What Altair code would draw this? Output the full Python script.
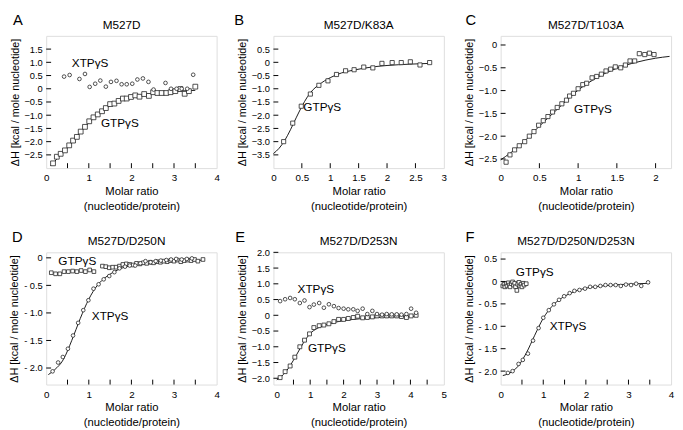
import altair as alt
import pandas as pd

FONT = "Liberation Sans"

# ---------------- Panel A: M527D ----------------
A_gtp_x = [0.16,0.25,0.34,0.44,0.54,0.63,0.72,0.81,0.91,1.01,1.11,1.21,1.31,1.40,1.50,1.60,1.70,1.80,1.89,1.99,2.09,2.19,2.30,2.41,2.51,2.61,2.71,2.82,2.92,3.03,3.15,3.25,3.35,3.50]
A_gtp_y = [-2.82,-2.57,-2.46,-2.33,-2.14,-1.96,-1.82,-1.62,-1.44,-1.23,-1.08,-0.97,-0.85,-0.73,-0.58,-0.56,-0.46,-0.37,-0.37,-0.31,-0.25,-0.30,-0.20,-0.27,-0.13,-0.16,-0.16,-0.16,-0.13,-0.09,-0.01,-0.19,-0.09,0.08]
A_xtp_x = [0.42,0.55,0.78,0.91,1.02,1.15,1.27,1.40,1.52,1.65,1.77,1.89,2.02,2.14,2.27,2.40,2.52,2.80,2.93,3.06,3.18,3.31,3.45]
A_xtp_y = [0.46,0.52,0.37,0.56,0.07,0.19,0.31,0.08,0.26,0.30,0.17,0.17,0.19,0.35,0.39,0.26,-0.03,0.22,0.00,0.00,0.00,0.00,0.53]
A_fit_x = [0.10,0.30,0.50,0.70,0.90,1.10,1.30,1.50,1.70,1.90,2.10,2.30,2.60,3.00,3.50]
A_fit_y = [-2.92,-2.57,-2.22,-1.85,-1.47,-1.12,-0.86,-0.64,-0.48,-0.37,-0.28,-0.22,-0.16,-0.10,-0.06]

# ---------------- Panel B: M527D/K83A ----------------
B_gtp_x = [0.18,0.34,0.49,0.65,0.80,0.96,1.11,1.27,1.42,1.59,1.75,1.91,2.09,2.25,2.41,2.58,2.75]
B_gtp_y = [-3.00,-2.30,-1.66,-1.20,-0.87,-0.70,-0.46,-0.32,-0.28,-0.18,-0.21,-0.04,-0.01,-0.01,0.02,-0.10,-0.01]
B_fit_x = [0.0,0.1,0.2,0.3,0.4,0.5,0.6,0.7,0.8,0.9,1.0,1.2,1.4,1.6,1.8,2.0,2.4,2.75]
B_fit_y = [-3.45,-3.25,-2.95,-2.55,-2.10,-1.67,-1.30,-1.03,-0.85,-0.70,-0.58,-0.40,-0.30,-0.22,-0.16,-0.12,-0.07,-0.04]

# ---------------- Panel C: M527D/T103A ----------------
C_gtp_x = [0.07,0.12,0.18,0.24,0.31,0.37,0.43,0.49,0.55,0.61,0.67,0.73,0.79,0.85,0.89,0.94,1.00,1.06,1.11,1.18,1.24,1.30,1.36,1.42,1.48,1.55,1.61,1.67,1.73,1.79,1.86,1.92,1.98]
C_gtp_y = [-2.57,-2.41,-2.30,-2.21,-2.12,-2.00,-1.90,-1.76,-1.66,-1.57,-1.47,-1.37,-1.29,-1.21,-1.12,-1.06,-0.96,-0.87,-0.84,-0.72,-0.69,-0.64,-0.57,-0.53,-0.48,-0.50,-0.44,-0.35,-0.35,-0.19,-0.21,-0.18,-0.21]
C_fit_x = [0.0,0.25,0.5,0.75,1.0,1.25,1.5,1.75,2.0,2.18]
C_fit_y = [-2.52,-2.20,-1.78,-1.38,-0.99,-0.71,-0.51,-0.38,-0.29,-0.25]

# ---------------- Panel D: M527D/D250N ----------------
D_xtp_x = [0.15,0.28,0.39,0.51,0.63,0.75,0.87,0.99,1.11,1.23,1.35,1.48,1.60,1.72,1.85,1.96,2.09,2.21,2.33,2.45,2.57,2.69,2.82,2.93,3.05,3.18,3.30,3.42]
D_xtp_y = [-2.06,-1.90,-1.80,-1.65,-1.41,-1.18,-0.95,-0.77,-0.56,-0.48,-0.39,-0.33,-0.26,-0.19,-0.16,-0.14,-0.14,-0.10,-0.06,-0.08,-0.06,-0.05,-0.04,-0.03,-0.02,-0.03,-0.02,-0.01]
D_gtp_x = [0.12,0.22,0.32,0.42,0.52,0.62,0.72,0.82,0.92,1.02,1.12,1.32,1.40,1.48,1.56,1.64,1.72,1.80,1.88,1.96,2.04,2.12,2.20,2.28,2.36,2.44,2.52,2.60,2.68,2.76,2.84,2.92,3.00,3.08,3.16,3.24,3.32,3.40,3.48,3.56,3.68]
D_gtp_y = [-0.27,-0.29,-0.29,-0.25,-0.25,-0.24,-0.25,-0.23,-0.25,-0.22,-0.25,-0.15,-0.16,-0.18,-0.17,-0.17,-0.15,-0.12,-0.11,-0.12,-0.13,-0.10,-0.11,-0.09,-0.10,-0.08,-0.09,-0.07,-0.08,-0.06,-0.07,-0.05,-0.06,-0.04,-0.07,-0.05,-0.04,-0.05,-0.03,-0.06,-0.03]
D_fit_x = [0.05,0.2,0.4,0.6,0.8,1.0,1.2,1.4,1.6,1.8,2.0,2.5,3.0,3.5,3.7]
D_fit_y = [-2.12,-2.03,-1.85,-1.50,-1.10,-0.75,-0.50,-0.35,-0.25,-0.18,-0.14,-0.09,-0.06,-0.05,-0.04]

# ---------------- Panel E: M527D/D253N ----------------
E_x = [0.10,0.25,0.40,0.54,0.69,0.83,0.98,1.11,1.27,1.41,1.56,1.71,1.85,2.00,2.14,2.29,2.42,2.57,2.71,2.86,3.00,3.15,3.29,3.44,3.59,3.73,3.88,4.02,4.17]
E_gtp_y = [-1.98,-1.79,-1.61,-1.33,-1.00,-0.79,-0.59,-0.39,-0.33,-0.31,-0.27,-0.20,-0.13,-0.13,-0.10,-0.07,-0.03,-0.08,-0.07,-0.05,-0.02,-0.02,-0.02,-0.02,-0.02,-0.04,-0.07,-0.02,0.00]
E_xtp_y = [0.45,0.51,0.55,0.51,0.39,0.47,0.26,0.34,0.39,0.24,0.35,0.29,0.23,0.21,0.19,0.19,0.14,0.21,0.04,0.14,0.04,0.02,0.04,0.03,0.03,0.02,0.04,0.21,0.08]
E_fit_x = [0.0,0.2,0.4,0.6,0.8,1.0,1.2,1.4,1.6,2.0,2.5,3.0,3.5,4.17]
E_fit_y = [-2.05,-1.88,-1.60,-1.24,-0.87,-0.58,-0.42,-0.33,-0.26,-0.17,-0.11,-0.07,-0.05,-0.03]

# ---------------- Panel F: M527D/D250N/D253N ----------------
F_xtp_x = [0.17,0.28,0.42,0.52,0.64,0.76,0.89,1.00,1.13,1.25,1.37,1.49,1.62,1.73,1.85,1.98,2.10,2.22,2.34,2.46,2.58,2.70,2.82,2.94,3.06,3.18,3.30,3.46]
F_xtp_y = [-2.04,-2.00,-1.84,-1.75,-1.61,-1.32,-1.04,-0.81,-0.64,-0.51,-0.41,-0.33,-0.26,-0.21,-0.19,-0.16,-0.12,-0.12,-0.10,-0.08,-0.08,-0.08,-0.10,-0.07,-0.08,-0.05,-0.10,-0.02]
F_gtp_x = [0.05,0.08,0.10,0.13,0.15,0.18,0.20,0.22,0.25,0.28,0.30,0.33,0.35,0.38,0.40,0.43,0.45,0.48,0.50,0.53,0.55,0.60]
F_gtp_y = [-0.10,-0.06,-0.12,-0.05,-0.10,-0.03,-0.08,-0.12,-0.05,-0.01,-0.08,-0.04,-0.12,-0.20,-0.06,-0.02,-0.10,-0.06,-0.12,-0.04,-0.08,-0.05]
F_fit_x = [0.05,0.2,0.4,0.6,0.8,1.0,1.2,1.4,1.6,1.8,2.0,2.5,3.0,3.5]
F_fit_y = [-2.10,-2.05,-1.90,-1.60,-1.20,-0.82,-0.56,-0.39,-0.28,-0.20,-0.15,-0.09,-0.06,-0.04]

titles = ["M527D", "M527D/K83A", "M527D/T103A", "M527D/D250N", "M527D/D253N", "M527D/D250N/D253N"]
letters = ["A", "B", "C", "D", "E", "F"]

panels = [
    dict(xdom=[0, 4], ydom=[-3.0, 2.0], xlab=[0, 1, 2, 3, 4], xtick=[0.5, 1, 1.5, 2, 2.5, 3, 3.5],
         ylab=[1.5, 1.0, 0.5, 0, -0.5, -1.0, -1.5, -2.0, -2.5], dash=False, tdx=-10, ldx=-34,
         series=[(A_gtp_x, A_gtp_y, "square", 24), (A_xtp_x, A_xtp_y, "circle", 14)],
         fit=(A_fit_x, A_fit_y), ann=[("XTPγS", 1.03, 0.99), ("GTPγS", 1.73, -1.29)]),
    dict(xdom=[0, 3], ydom=[-4.0, 1.0], xlab=[0, 0.5, 1, 1.5, 2, 2.5, 3], xtick=[0.5, 1, 1.5, 2, 2.5],
         ylab=[0.5, 0, -0.5, -1.0, -1.5, -2.0, -2.5, -3.0, -3.5], dash=False, tdx=0, ldx=-40,
         series=[(B_gtp_x, B_gtp_y, "square", 18)],
         fit=(B_fit_x, B_fit_y), ann=[("GTPγS", 0.86, -1.7)]),
    dict(xdom=[0, 2.2], ydom=[-2.7, 0.2], xlab=[0, 0.5, 1, 1.5, 2], xtick=[0.5, 1, 1.5, 2],
         ylab=[0, -0.5, -1.0, -1.5, -2.0, -2.5], dash=False, tdx=0, ldx=-36,
         series=[(C_gtp_x, C_gtp_y, "square", 18)],
         fit=(C_fit_x, C_fit_y), ann=[("GTPγS", 1.19, -1.4)]),
    dict(xdom=[0, 4], ydom=[-2.3, 0.1], xlab=[0, 1, 2, 3, 4], xtick=[0.5, 1, 1.5, 2, 2.5, 3, 3.5],
         ylab=[0, -0.5, -1.0, -1.5, -2.0], dash=True, tdx=-5, ldx=-35,
         series=[(D_gtp_x, D_gtp_y, "square", 14), (D_xtp_x, D_xtp_y, "circle", 14)],
         fit=(D_fit_x, D_fit_y), ann=[("GTPγS", 0.73, -0.06), ("XTPγS", 1.5, -1.05)]),
    dict(xdom=[-0.1, 5], ydom=[-2.2, 2.0], xlab=[0, 1, 2, 3, 4, 5], xtick=[0.5, 1, 1.5, 2, 2.5, 3, 3.5, 4, 4.5],
         ylab=[2.0, 1.5, 1.0, 0.5, 0, -0.5, -1.0, -1.5, -2.0], dash=False, tdx=0, ldx=-39,
         series=[(E_x, E_gtp_y, "square", 16), (E_x, E_xtp_y, "circle", 14)],
         fit=(E_fit_x, E_fit_y), ann=[("XTPγS", 1.17, 0.82), ("GTPγS", 1.5, -1.03)]),
    dict(xdom=[0, 4], ydom=[-2.3, 0.65], xlab=[0, 1, 2, 3, 4], xtick=[0.5, 1, 1.5, 2, 2.5, 3, 3.5],
         ylab=[0.5, 0, -0.5, -1.0, -1.5, -2.0], dash=True, tdx=-10, ldx=-36,
         series=[(F_gtp_x, F_gtp_y, "square", 14), (F_xtp_x, F_xtp_y, "circle", 14)],
         fit=(F_fit_x, F_fit_y), ann=[("GTPγS", 0.8, 0.2), ("XTPγS", 1.58, -1.0)]),
]

W, H = 174, 135


def make_panel(p, title, letter):
    xs = alt.Scale(domain=p["xdom"], nice=False, zero=False)
    ys = alt.Scale(domain=p["ydom"], nice=False, zero=False)
    xax = alt.Axis(values=p["xlab"], grid=False, domain=False, ticks=False,
                   labelFontSize=10, labelPadding=5, labelColor="black", labelFont=FONT,
                   labelFlush=False, labelOverlap=False,
                   labelExpr="format(datum.value, '~g')",
                   title=["Molar ratio", "(nucleotide/protein)"], titleFontSize=11.5,
                   titleFontWeight="normal", titleColor="black", titleFont=FONT,
                   titlePadding=3, titleLineHeight=15)
    if p["dash"]:
        expr = "datum.value == 0 ? '0' : (datum.value < 0 ? '- ' + format(-datum.value, '.1f') : format(datum.value, '.1f'))"
    else:
        expr = "datum.value == 0 ? '0' : format(datum.value, '.1f')"
    yax = alt.Axis(values=p["ylab"], grid=False, domain=False, ticks=False,
                   labelFontSize=9.5, labelPadding=4, labelColor="black", labelFont=FONT,
                   labelExpr=expr, labelFlush=False, labelOverlap=False,
                   title="ΔH [kcal / mole nucleotide]", titleFontSize=11,
                   titleFontWeight="normal", titleColor="black", titleFont=FONT,
                   titlePadding=4)
    X = alt.X("x:Q", scale=xs, axis=xax)
    Y = alt.Y("y:Q", scale=ys, axis=yax)

    layers = []
    fx, fy = p["fit"]
    layers.append(alt.Chart(pd.DataFrame({"x": fx, "y": fy})).mark_line(
        color="black", strokeWidth=0.9, interpolate="monotone").encode(x=X, y=Y))
    for sx, sy, shape, size in p["series"]:
        layers.append(alt.Chart(pd.DataFrame({"x": sx, "y": sy})).mark_point(
            shape=shape, size=size, filled=True, fill="white", stroke="#222222",
            strokeWidth=0.8, opacity=1).encode(x=X, y=Y))
    layers.append(alt.Chart(pd.DataFrame({"x": p["xtick"]})).mark_rule(
        color="black", strokeWidth=1).encode(x=X, y=alt.value(H), y2=alt.value(H - 5)))
    layers.append(alt.Chart(pd.DataFrame({"y": p["ylab"]})).mark_rule(
        color="black", strokeWidth=1).encode(y=Y, x=alt.value(0), x2=alt.value(5)))
    ann = pd.DataFrame({"label": [a[0] for a in p["ann"]],
                        "x": [a[1] for a in p["ann"]],
                        "y": [a[2] for a in p["ann"]]})
    layers.append(alt.Chart(ann).mark_text(font=FONT, fontSize=12, color="black",
                                           align="center", baseline="middle").encode(
        x=X, y=Y, text="label:N"))
    layers.append(alt.Chart(pd.DataFrame({"t": [letter]})).mark_text(
        font=FONT, fontSize=15, color="black", align="left", baseline="alphabetic").encode(
        x=alt.value(p["ldx"]), y=alt.value(-11), text="t:N"))
    layers.append(alt.Chart(pd.DataFrame({"t": [title]})).mark_text(
        font=FONT, fontSize=12, color="black", align="center", baseline="alphabetic").encode(
        x=alt.value(W / 2 + p["tdx"]), y=alt.value(-7), text="t:N"))

    return alt.layer(*layers).properties(width=W, height=H)


charts = [make_panel(p, t, l) for p, t, l in zip(panels, titles, letters)]
chart = alt.concat(*charts, columns=3, spacing={"row": 86, "column": 58},
                   bounds="flush").configure_view(
    stroke="black", strokeWidth=1).configure(background="white", padding=0)

chart.save("out.html", embed_options={"renderer": "svg", "actions": False})
